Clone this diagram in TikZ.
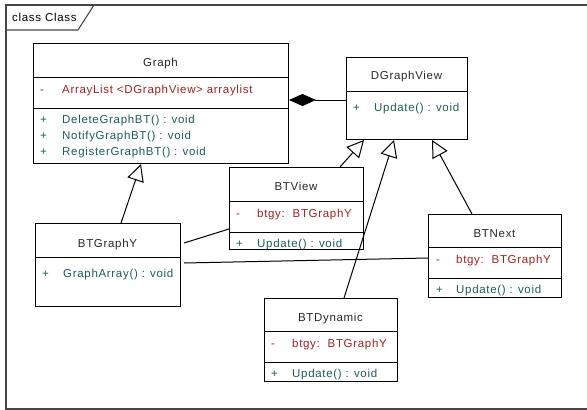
\documentclass[tikz,border=0pt]{standalone}
\usepackage{fontspec}
\setmainfont{Liberation Sans}[LetterSpace=6]
\usetikzlibrary{arrows.meta}
\definecolor{attrred}{RGB}{160,32,32}
\definecolor{methteal}{RGB}{30,90,90}
\definecolor{framegray}{RGB}{70,70,70}
\begin{document}
\begin{tikzpicture}[x=1pt,y=-1pt,
  umlbox/.style={draw, line width=1pt, inner sep=0pt, anchor=north west},
  txt/.style={anchor=base west, inner sep=0pt, font=\fontsize{11.5}{13}\selectfont},
  cname/.style={anchor=base, inner sep=0pt, font=\fontsize{11.5}{13}\selectfont, text=black!85},
  attr/.style={txt, text=attrred},
  meth/.style={txt, text=methteal},
  divider/.style={line width=1pt},
  gen/.style={line width=1pt, -{Triangle[open, length=17pt, width=17pt]}},
  assoc/.style={line width=1pt},
  compo/.style={line width=1pt, {Diamond[length=27pt, width=12pt]}-}
]
\useasboundingbox (0,0) rectangle (587,410);
% frame
\draw[framegray, line width=1.3pt] (587,5) -- (6,5) -- (6,409) -- (587,409);
\draw[framegray, line width=1.1pt] (6,30) -- (78,30) -- (94,5);
\node[txt, text=black] (framelabel) at (12,21) {class Class};

% Graph
\node[umlbox, minimum width=255pt, minimum height=120pt] (graph) at (33,43) {};
\draw[divider] (33,77) -- (288,77);
\draw[divider] (33,108) -- (288,108);
\node[cname] (graphname) at (160.5,66) {Graph};
\node[attr] (graphap) at (40,93) {-};
\node[attr] (grapha) at (62,93) {ArrayList <DGraphView> arraylist};
\node[meth] (graphm1p) at (40,123) {+};
\node[meth] (graphm1) at (62,123) {DeleteGraphBT() : void};
\node[meth] (graphm2p) at (40,139.5) {+};
\node[meth] (graphm2) at (62,139.5) {NotifyGraphBT() : void};
\node[meth] (graphm3p) at (40,155) {+};
\node[meth] (graphm3) at (62,155) {RegisterGraphBT() : void};

% DGraphView
\node[umlbox, minimum width=121pt, minimum height=82pt] (dgv) at (346,57) {};
\draw[divider] (346,91) -- (467,91);
\node[cname] (dgvname) at (406.5,79) {DGraphView};
\node[meth] (dgvmp) at (353,111) {+};
\node[meth] (dgvm) at (374,111) {Update() : void};

% BTView
\node[umlbox, minimum width=134pt, minimum height=82pt] (btview) at (229,167) {};
\draw[divider] (229,201) -- (363,201);
\draw[divider] (229,232) -- (363,232);
\node[cname] (btviewname) at (296,190) {BTView};
\node[attr] (btviewap) at (236,217) {-};
\node[attr] (btviewa) at (257,217) {btgy:\ \ BTGraphY};
\node[meth] (btviewmp) at (236,247) {+};
\node[meth] (btviewm) at (257,247) {Update() : void};

% BTGraphY
\node[umlbox, minimum width=145pt, minimum height=83pt] (btgraphy) at (35,223) {};
\draw[divider] (35,257) -- (180,257);
\node[cname] (btgraphyname) at (107.5,247) {BTGraphY};
\node[meth] (btgraphymp) at (42,277) {+};
\node[meth] (btgraphym) at (63,277) {GraphArray() : void};

% BTNext
\node[umlbox, minimum width=133pt, minimum height=83pt] (btnext) at (428,214) {};
\draw[divider] (428,247) -- (561,247);
\draw[divider] (428,278) -- (561,278);
\node[cname] (btnextname) at (494.5,237) {BTNext};
\node[attr] (btnextap) at (436,263) {-};
\node[attr] (btnexta) at (456,263) {btgy:\ \ BTGraphY};
\node[meth] (btnextmp) at (436,293) {+};
\node[meth] (btnextm) at (456,293) {Update() : void};

% BTDynamic
\node[umlbox, minimum width=133pt, minimum height=83pt] (btdyn) at (264,298) {};
\draw[divider] (264,331) -- (397,331);
\draw[divider] (264,362) -- (397,362);
\node[cname] (btdynname) at (330.5,321) {BTDynamic};
\node[attr] (btdynap) at (271,347) {-};
\node[attr] (btdyna) at (292,347) {btgy:\ \ BTGraphY};
\node[meth] (btdynmp) at (271,377) {+};
\node[meth] (btdynm) at (292,377) {Update() : void};

% connectors
\draw[gen] ([xshift=86pt]btgraphy.north west) -- ([xshift=108pt]graph.south west);
\draw[gen] ([xshift=111pt]btview.north west) -- ([xshift=18pt]dgv.south west);
\draw[gen] ([xshift=80pt]btdyn.north west) -- ([xshift=48pt]dgv.south west);
\draw[gen] ([xshift=44pt]btnext.north west) -- ([xshift=86pt]dgv.south west);
\draw[assoc] ([xshift=3pt,yshift=-20pt]btgraphy.north east) -- ([yshift=-62pt]btview.north west);
\draw[assoc] ([xshift=3pt,yshift=-40pt]btgraphy.north east) -- ([yshift=-44pt]btnext.north west);
\draw[compo] ([yshift=-57pt]graph.north east) -- ([yshift=-43pt]dgv.north west);
\end{tikzpicture}
\end{document}
